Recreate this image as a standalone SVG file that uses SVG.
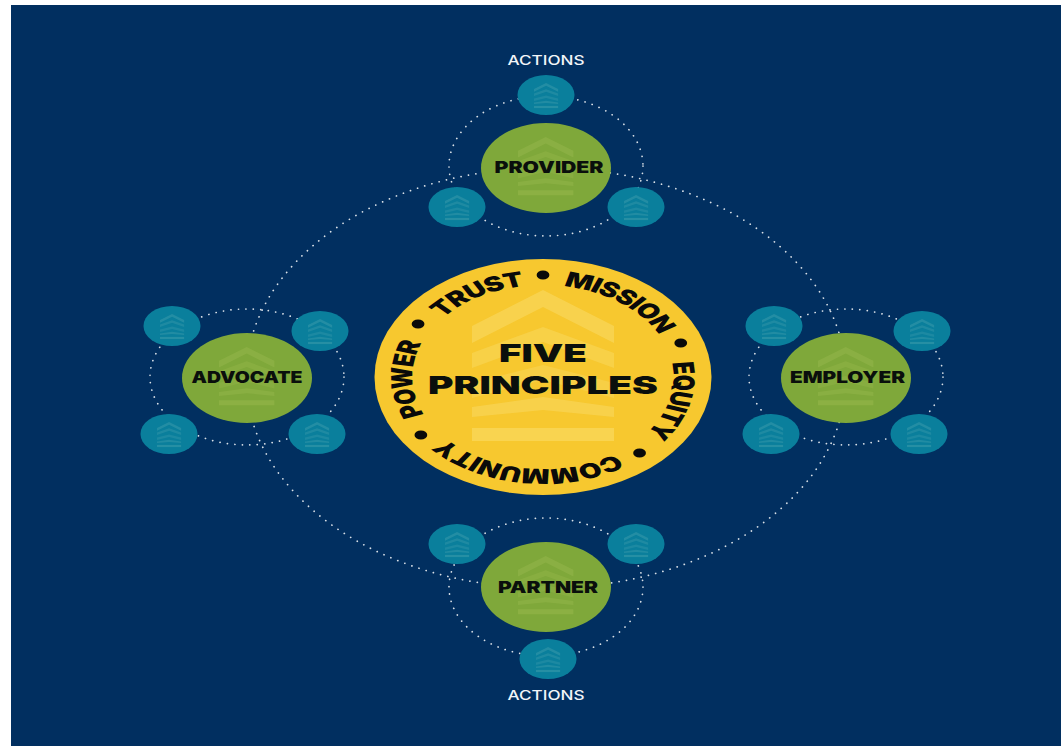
<svg xmlns="http://www.w3.org/2000/svg" xmlns:xlink="http://www.w3.org/1999/xlink" width="1061" height="746" viewBox="0 0 1061 746">
<style>
.ring{fill:none;stroke:#fff;stroke-width:1.700;stroke-opacity:.85;stroke-linecap:round;stroke-dasharray:0.1 7.4}
.big{fill:#7fa83a}
.small{fill:#0a7f9c}
.big-c{fill:#a3bf55;opacity:.6}
.small-c{fill:#5fb0b8;opacity:.55}
.cen-c{fill:#fbe27a;opacity:.75}
.lbl{font-family:"Inter","Liberation Sans",sans-serif;font-weight:900;fill:#0a0f0c;text-anchor:middle}
.act{font-family:"Inter","Liberation Sans",sans-serif;font-weight:500;fill:#f2f5f8;font-size:13px;text-anchor:middle}
.arc{font-family:"Inter","Liberation Sans",sans-serif;font-weight:900;font-size:20.500px;letter-spacing:-.7px;fill:#0a0a0a;text-anchor:middle}
</style>
<defs>
<g id="chev">
<path fill-opacity=".55" d="M0 36 71 0 142 36V53L71 17 0 53Z"/>
<path fill-opacity=".45" d="M0 63 71 37 142 63V78L71 52 0 78Z"/>
<path fill-opacity=".4" d="M0 93 71 75 142 93V108L71 90 0 108Z"/>
<path fill-opacity=".5" d="M0 117 71 107 142 117V127L71 120 0 127Z"/>
<path fill-opacity=".6" d="M0 138H142V151H0Z"/>
</g>
<path id="circ" d="M0 -92A92 92 0 1 1 -0.01 -92Z"/>
</defs>
<rect x="11" y="5" width="1050" height="741" fill="#012f60"/>
<g id="connectors">
<ellipse class="ring" cx="546" cy="378" rx="300" ry="210"/>
<ellipse class="ring" cx="546" cy="166" rx="97" ry="70"/>
<ellipse class="ring" cx="247" cy="377" rx="97" ry="68"/>
<ellipse class="ring" cx="846" cy="377" rx="97" ry="68"/>
<ellipse class="ring" cx="546" cy="587" rx="97" ry="69"/>
</g>
<g id="center">
<ellipse cx="543" cy="377" rx="168.500" ry="118" fill="#f7c82f"/>
<use class="cen-c" href="#chev" transform="translate(472 290)"/>
<text class="lbl" x="543" y="362" font-size="25" textLength="88" lengthAdjust="spacingAndGlyphs">FIVE</text>
<text class="lbl" x="543" y="394" font-size="25" textLength="230" lengthAdjust="spacingAndGlyphs">PRINCIPLES</text>
<g transform="translate(543 377) scale(1.42 1)">
<text class="arc"><textPath href="#circ" startOffset="91.9%">TRUST</textPath></text>
<text class="arc"><textPath href="#circ" startOffset="9.9%">MISSION</textPath></text>
<text class="arc"><textPath href="#circ" startOffset="29%">EQUITY</textPath></text>
<text class="arc"><textPath href="#circ" startOffset="52%">COMMUNITY</textPath></text>
<text class="arc"><textPath href="#circ" startOffset="74.6%">POWER</textPath></text>
<g fill="#0a0a0a">
<circle cx="0" cy="-102" r="4.500"/>
<circle cx="97" cy="-34" r="4.500"/>
<circle cx="68" cy="76" r="4.500"/>
<circle cx="-86" cy="58" r="4.500"/>
<circle cx="-88" cy="-53" r="4.500"/>
</g>
</g>
</g>
<g id="provider">
<ellipse class="big" cx="546" cy="168" rx="65" ry="45"/>
<use class="big-c" href="#chev" transform="translate(518 137) scale(.39 .385)"/>
<text class="lbl" x="549" y="173" font-size="16" textLength="109" lengthAdjust="spacingAndGlyphs">PROVIDER</text>
</g>
<g id="provider-actions">
<ellipse class="small" cx="546" cy="95" rx="28.500" ry="20"/><use class="small-c" href="#chev" transform="translate(534 83) scale(.17 .166)"/>
<ellipse class="small" cx="457" cy="207" rx="28.500" ry="20"/><use class="small-c" href="#chev" transform="translate(445 195) scale(.17 .166)"/>
<ellipse class="small" cx="636" cy="207" rx="28.500" ry="20"/><use class="small-c" href="#chev" transform="translate(624 195) scale(.17 .166)"/>
<text class="act" x="546" y="64.500" textLength="77" lengthAdjust="spacingAndGlyphs">ACTIONS</text>
</g>
<g id="advocate">
<ellipse class="big" cx="247" cy="378" rx="65" ry="45"/>
<use class="big-c" href="#chev" transform="translate(219 347) scale(.39 .385)"/>
<text class="lbl" x="247" y="383" font-size="16" textLength="111" lengthAdjust="spacingAndGlyphs">ADVOCATE</text>
</g>
<g id="advocate-actions">
<ellipse class="small" cx="172" cy="326" rx="28.500" ry="20"/><use class="small-c" href="#chev" transform="translate(160 314) scale(.17 .166)"/>
<ellipse class="small" cx="320" cy="331" rx="28.500" ry="20"/><use class="small-c" href="#chev" transform="translate(308 319) scale(.17 .166)"/>
<ellipse class="small" cx="169" cy="434" rx="28.500" ry="20"/><use class="small-c" href="#chev" transform="translate(157 422) scale(.17 .166)"/>
<ellipse class="small" cx="317" cy="434" rx="28.500" ry="20"/><use class="small-c" href="#chev" transform="translate(305 422) scale(.17 .166)"/>
</g>
<g id="employer">
<ellipse class="big" cx="846" cy="378" rx="65" ry="45"/>
<use class="big-c" href="#chev" transform="translate(818 347) scale(.39 .385)"/>
<text class="lbl" x="847.500" y="383" font-size="16" textLength="115" lengthAdjust="spacingAndGlyphs">EMPLOYER</text>
</g>
<g id="employer-actions">
<ellipse class="small" cx="774" cy="326" rx="28.500" ry="20"/><use class="small-c" href="#chev" transform="translate(762 314) scale(.17 .166)"/>
<ellipse class="small" cx="922" cy="331" rx="28.500" ry="20"/><use class="small-c" href="#chev" transform="translate(910 319) scale(.17 .166)"/>
<ellipse class="small" cx="771" cy="434" rx="28.500" ry="20"/><use class="small-c" href="#chev" transform="translate(759 422) scale(.17 .166)"/>
<ellipse class="small" cx="919" cy="434" rx="28.500" ry="20"/><use class="small-c" href="#chev" transform="translate(907 422) scale(.17 .166)"/>
</g>
<g id="partner">
<ellipse class="big" cx="546" cy="587" rx="65" ry="45"/>
<use class="big-c" href="#chev" transform="translate(518 556) scale(.39 .385)"/>
<text class="lbl" x="548" y="593" font-size="16" textLength="100" lengthAdjust="spacingAndGlyphs">PARTNER</text>
</g>
<g id="partner-actions">
<ellipse class="small" cx="457" cy="544" rx="28.500" ry="20"/><use class="small-c" href="#chev" transform="translate(445 532) scale(.17 .166)"/>
<ellipse class="small" cx="636" cy="544" rx="28.500" ry="20"/><use class="small-c" href="#chev" transform="translate(624 532) scale(.17 .166)"/>
<ellipse class="small" cx="548" cy="659" rx="28.500" ry="20"/><use class="small-c" href="#chev" transform="translate(536 647) scale(.17 .166)"/>
<text class="act" x="546" y="700" textLength="77" lengthAdjust="spacingAndGlyphs">ACTIONS</text>
</g>
</svg>
